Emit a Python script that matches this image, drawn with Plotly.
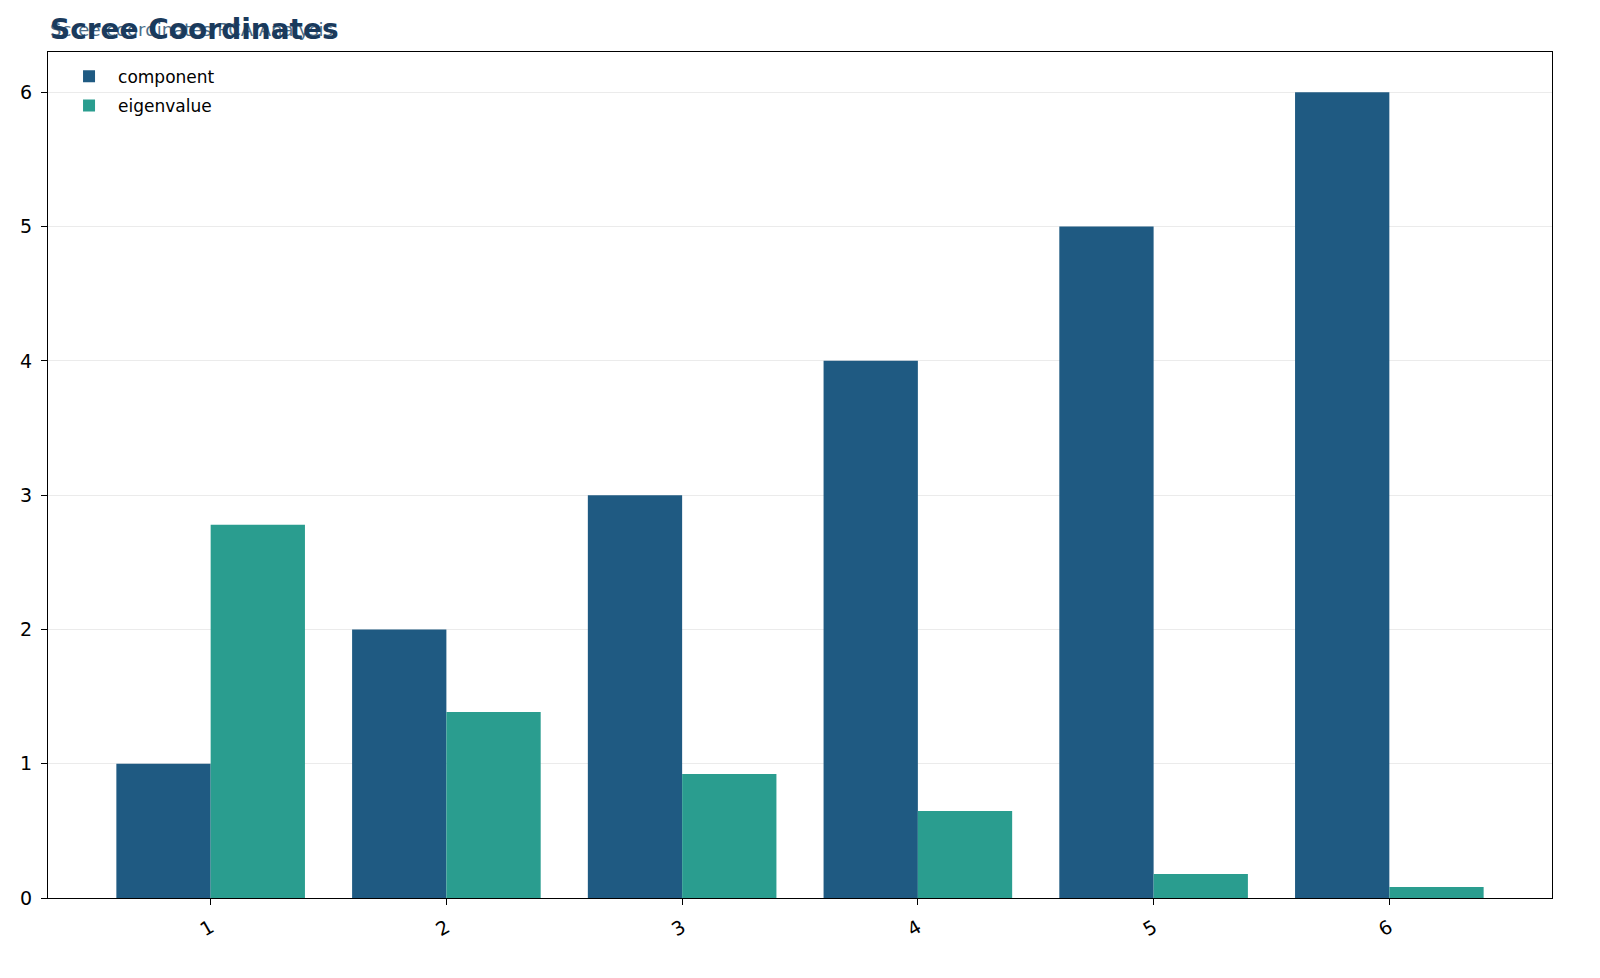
import plotly.graph_objects as go

# data
components = ['1', '2', '3', '4', '5', '6']
component_values = [1, 2, 3, 4, 5, 6]
eigenvalues = [2.78, 1.385, 0.923, 0.648, 0.179, 0.082]

COLOR_COMPONENT = '#1f5a82'
COLOR_EIGEN = '#2a9d8f'
FONT = 'DejaVu Sans'

fig = go.Figure()
fig.add_trace(go.Bar(x=components, y=component_values, name='component',
                     legendgroup='a',
                     marker=dict(color=COLOR_COMPONENT, line=dict(width=0))))
fig.add_trace(go.Bar(x=components, y=eigenvalues, name='eigenvalue',
                     legendgroup='b',
                     marker=dict(color=COLOR_EIGEN, line=dict(width=0))))

fig.update_layout(
    width=1600, height=978,
    margin=dict(l=48, r=48, t=52, b=80),
    paper_bgcolor='white', plot_bgcolor='white',
    font=dict(family=FONT, size=14, color='black'),
    barmode='group', bargap=0.2, bargroupgap=0,
    showlegend=True,
    legend=dict(x=0.008, y=0.992, xanchor='left', yanchor='top',
                bgcolor='rgba(0,0,0,0)', font=dict(size=17), tracegroupgap=4,
                itemwidth=48),
)

fig.update_xaxes(type='category', range=[-0.69, 5.69], tickangle=-30,
                 showline=True, linecolor='black', linewidth=1.2, mirror=True,
                 ticks='outside', ticklen=6, tickcolor='black', showgrid=False,
                 tickfont=dict(size=19), ticklabelstandoff=4)
fig.update_yaxes(range=[0, 6.3], dtick=1, showline=True, linecolor='black',
                 linewidth=1.2, mirror=True, ticks='outside', ticklen=6,
                 tickcolor='black', showgrid=True, gridcolor='#ebebeb',
                 gridwidth=1, zeroline=False, tickfont=dict(size=19),
                 ticklabelstandoff=5)

# subtitle drawn first, title on top (they overlap in the reference)
fig.add_annotation(text='Scree coordinates PCA Analysis', xref='paper', yref='paper',
                   x=0, y=1.027, xanchor='left', yanchor='middle', showarrow=False,
                   font=dict(family=FONT, size=18, color='#4f6f8a'))
fig.add_annotation(text='<b>Scree Coordinates</b>', xref='paper', yref='paper',
                   x=0, y=1.027, xanchor='left', yanchor='middle', showarrow=False,
                   font=dict(family=FONT, size=28, color='#1a3a5c'))

fig.write_html('out.html', config={'displayModeBar': False},
               post_script="document.body.style.margin='0';"
                           "document.body.style.overflow='hidden';")
